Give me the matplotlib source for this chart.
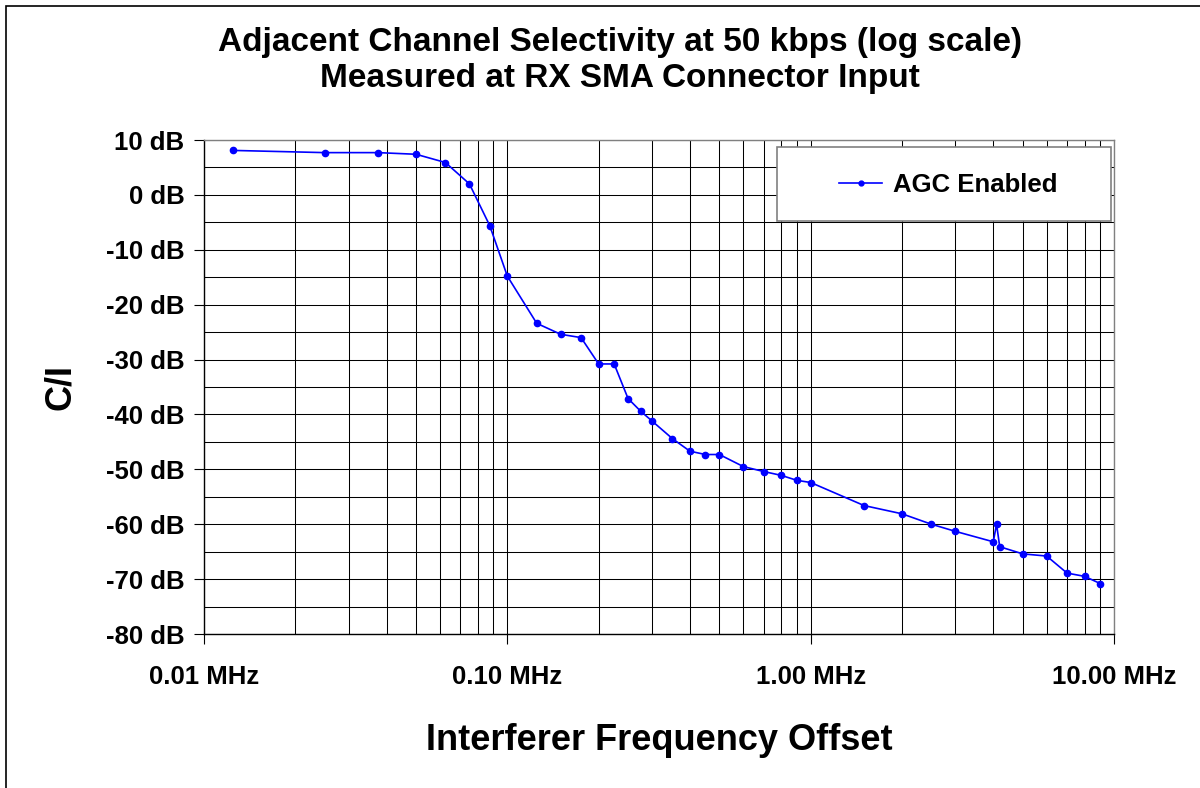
import matplotlib
matplotlib.use('Agg')
import matplotlib.pyplot as plt
from matplotlib.ticker import FixedLocator, MultipleLocator, LogLocator, NullFormatter
from matplotlib.patches import Rectangle

plt.rcParams['font.family'] = 'Liberation Sans'
plt.rcParams['font.weight'] = 'bold'

# interferer offset (MHz) and C/I (dB)
freq_mhz = [0.0125, 0.025, 0.0375, 0.05, 0.0625, 0.075, 0.0875, 0.1,
            0.125, 0.15, 0.175, 0.2, 0.225, 0.25, 0.275, 0.3, 0.35, 0.4,
            0.45, 0.5, 0.6, 0.7, 0.8, 0.9, 1.0, 1.5, 2.0, 2.5, 3.0, 4.0,
            4.1, 4.2, 5.0, 6.0, 7.0, 8.0, 9.0]
ci_db = [8.1, 7.7, 7.7, 7.4, 5.9, 2.0, -5.6, -14.8,
         -23.4, -25.4, -26.0, -30.8, -30.8, -37.1, -39.4, -41.2, -44.4, -46.7,
         -47.3, -47.3, -49.5, -50.4, -51.1, -52.0, -52.4, -56.6, -58.1, -60.0,
         -61.3, -63.2, -60.0, -64.1, -65.4, -65.8, -68.9, -69.5, -70.8]

x_ticks = [0.01, 0.1, 1.0, 10.0]
x_labels = ['0.01 MHz', '0.10 MHz', '1.00 MHz', '10.00 MHz']
y_ticks = list(range(-80, 11, 10))
y_labels = ['%d dB' % v for v in y_ticks]

W, H = 1200, 788
fig = plt.figure(figsize=(W / 100, H / 100), dpi=100)

# outer chart frame
fig.patches.append(Rectangle((6 / W, -0.05), 1.2, 1 - 6 / H + 0.05,
                             transform=fig.transFigure, fill=False,
                             edgecolor='black', linewidth=1.2))

ax = fig.add_axes([204 / W, 1 - 634 / H, 910 / W, 494 / H])
line, = ax.plot(freq_mhz, ci_db, color='#0000FF', linewidth=1.2, marker='o',
                markersize=4.5, label='AGC Enabled', zorder=3)

ax.set_xscale('log')
ax.set_xlim(0.01, 10)
ax.set_ylim(-80, 10)

ax.xaxis.set_major_locator(FixedLocator(x_ticks))
ax.set_xticklabels(x_labels)
ax.xaxis.set_minor_locator(LogLocator(base=10, subs=range(2, 10)))
ax.xaxis.set_minor_formatter(NullFormatter())
ax.set_yticks(y_ticks)
ax.set_yticklabels(y_labels)
ax.yaxis.set_minor_locator(MultipleLocator(5))

ax.grid(True, which='both', color='black', linewidth=0.75)
ax.tick_params(axis='both', which='major', labelsize=18.5, length=7,
               width=0.8, direction='out')
ax.tick_params(axis='x', which='major', pad=15)
ax.tick_params(axis='y', which='major', pad=7)
ax.tick_params(which='minor', length=0)

for side in ['top', 'right']:
    ax.spines[side].set_color('#808080')
for side in ['left', 'bottom']:
    ax.spines[side].set_color('black')
for sp in ax.spines.values():
    sp.set_linewidth(1.0)

ax.set_xlabel('Interferer Frequency Offset', fontsize=26, fontweight='bold',
              labelpad=25)
ax.set_ylabel('C/I', fontsize=26, fontweight='bold', labelpad=20)

# legend box drawn separately, entries centred inside it
fig.patches.append(Rectangle((777 / W, 1 - 221 / H), 334 / W, 74 / H,
                             transform=fig.transFigure, facecolor='white',
                             edgecolor='#808080', linewidth=1.2, zorder=4))
leg = fig.legend(handles=[line], loc='center',
                 bbox_to_anchor=(948 / W, 1 - 185 / H),
                 bbox_transform=fig.transFigure, fontsize=18.5, frameon=False,
                 handlelength=1.7, handletextpad=0.4, borderaxespad=0)
leg.set_zorder(6)
for h in leg.legend_handles:
    h.set_markersize(3.5)

fig.text(620 / W, 1 - 42 / H, 'Adjacent Channel Selectivity at 50 kbps (log scale)',
         ha='center', va='center', fontsize=24, fontweight='bold')
fig.text(620 / W, 1 - 79 / H, 'Measured at RX SMA Connector Input',
         ha='center', va='center', fontsize=24, fontweight='bold')

fig.savefig('out.png', dpi=100)
